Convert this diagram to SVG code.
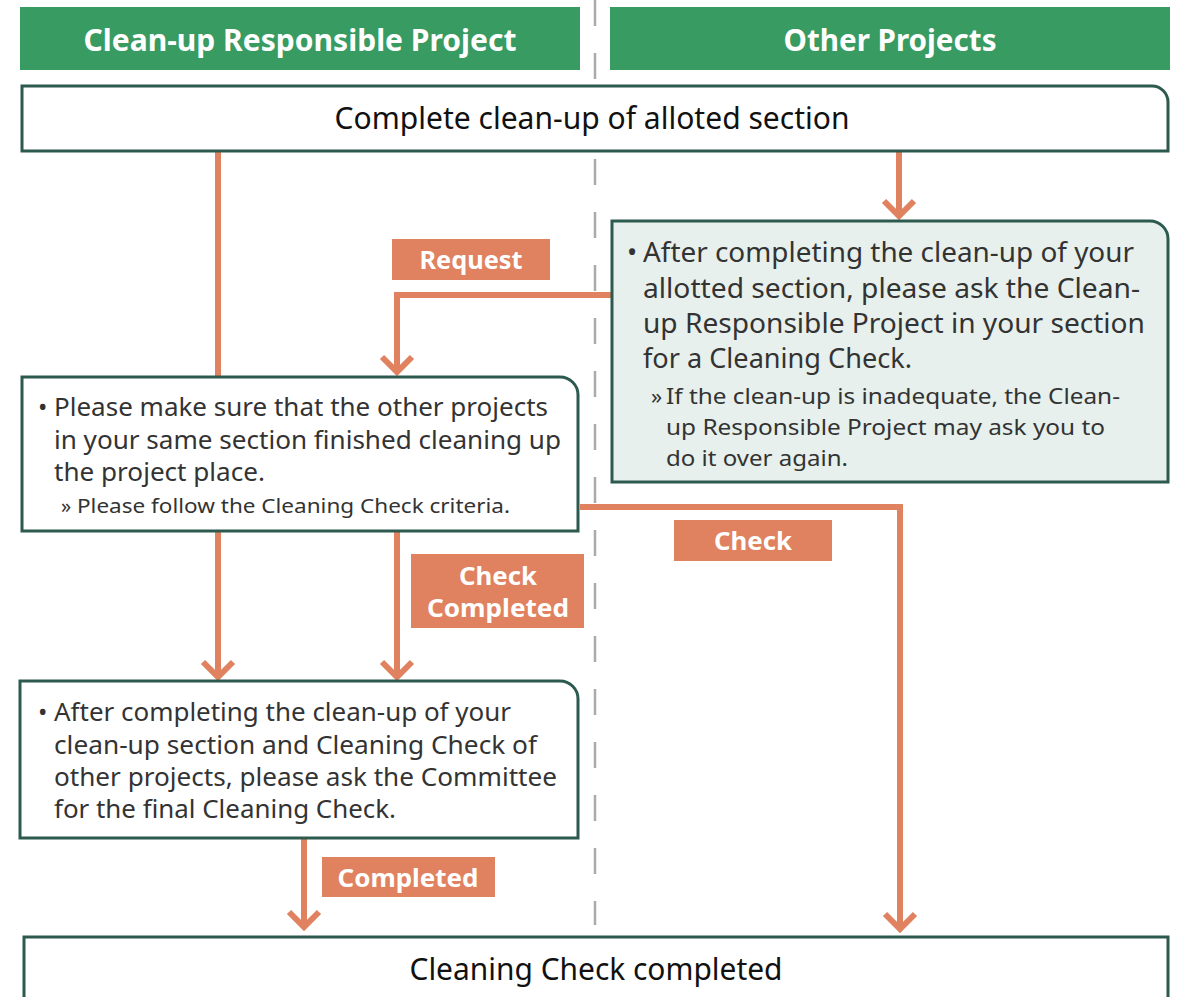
<svg xmlns="http://www.w3.org/2000/svg" width="1181" height="997" viewBox="0 0 1181 997">
  <style>
    .hdr { fill: #389b62; }
    .hdr-t { font-family: "Noto Sans", "Liberation Sans", sans-serif; font-weight: bold; font-size: 30px; fill: #ffffff; text-anchor: middle; }
    .box { fill: #ffffff; stroke: #2d5a4f; stroke-width: 3; }
    .box-g { fill: #e7f0ec; stroke: #2d5a4f; stroke-width: 3; }
    .t { font-family: "Noto Sans", "Liberation Sans", sans-serif; fill: #333333; }
    .big { font-size: 30px; fill: #111111; text-anchor: middle; }
    .body { font-size: 27px; }
    .sub { font-size: 22px; }
    .lbl { fill: #e0825f; }
    .lbl-t { font-family: "Noto Sans", "Liberation Sans", sans-serif; font-weight: bold; font-size: 25px; fill: #ffffff; text-anchor: middle; }
    .conn { fill: none; stroke: #e0825f; stroke-width: 6; }
    .divider { stroke: #aaaaaa; stroke-width: 2.5; stroke-dasharray: 26 27; }
  </style>
  <defs>
    <marker id="chev" markerUnits="userSpaceOnUse" viewBox="-20 -20 24 40" markerWidth="24" markerHeight="40" refX="0" refY="0" orient="auto">
      <path d="M-15,-15 L0,0 L-15,15" fill="none" stroke="#e0825f" stroke-width="6"/>
    </marker>
  </defs>

  <!-- lane divider -->
  <line class="divider" x1="595" y1="0" x2="595" y2="925"/>

  <!-- lane headers -->
  <g id="lane-responsible">
    <rect class="hdr" x="20" y="7" width="560" height="63"/>
    <text class="hdr-t" x="300" y="51" textLength="433" lengthAdjust="spacingAndGlyphs">Clean-up Responsible Project</text>
  </g>
  <g id="lane-other">
    <rect class="hdr" x="610" y="7" width="560" height="63"/>
    <text class="hdr-t" x="890" y="51" textLength="213" lengthAdjust="spacingAndGlyphs">Other Projects</text>
  </g>

  <!-- connectors -->
  <g id="connectors">
    <line class="conn" x1="218" y1="151" x2="218" y2="377"/>
    <line class="conn" x1="899" y1="151" x2="899" y2="216" marker-end="url(#chev)"/>
    <polyline class="conn" points="612,295 397,295 397,372" marker-end="url(#chev)"/>
    <line class="conn" x1="218" y1="531" x2="218" y2="677" marker-end="url(#chev)"/>
    <line class="conn" x1="397" y1="531" x2="397" y2="677" marker-end="url(#chev)"/>
    <polyline class="conn" points="580,507 900,507 900,929" marker-end="url(#chev)"/>
    <line class="conn" x1="304" y1="838" x2="304" y2="927" marker-end="url(#chev)"/>
  </g>

  <!-- start -->
  <g id="start">
    <path class="box" d="M22,86 H1152 A16,16 0 0 1 1168,102 V151 H22 Z"/>
    <text class="t big" x="592" y="129" textLength="515" lengthAdjust="spacingAndGlyphs">Complete clean-up of alloted section</text>
  </g>

  <!-- other projects: request check -->
  <g id="request-check">
    <path class="box-g" d="M612,221 H1150 A18,18 0 0 1 1168,239 V482 H612 Z"/>
    <text class="t body" x="627" y="262">•</text>
    <text class="t body" x="643" y="262" textLength="491" lengthAdjust="spacingAndGlyphs">After completing the clean-up of your</text>
    <text class="t body" x="643" y="298" textLength="497" lengthAdjust="spacingAndGlyphs">allotted section, please ask the Clean-</text>
    <text class="t body" x="643" y="333" textLength="502" lengthAdjust="spacingAndGlyphs">up Responsible Project in your section</text>
    <text class="t body" x="643" y="368" textLength="269" lengthAdjust="spacingAndGlyphs">for a Cleaning Check.</text>
    <text class="t sub" x="651" y="404">»</text>
    <text class="t sub" x="666" y="404" textLength="454" lengthAdjust="spacingAndGlyphs">If the clean-up is inadequate, the Clean-</text>
    <text class="t sub" x="666" y="435" textLength="439" lengthAdjust="spacingAndGlyphs">up Responsible Project may ask you to</text>
    <text class="t sub" x="666" y="466" textLength="182" lengthAdjust="spacingAndGlyphs">do it over again.</text>
  </g>

  <!-- responsible project: check others -->
  <g id="check-others">
    <path class="box" d="M22,377 H560 A18,18 0 0 1 578,395 V531 H22 Z"/>
    <text class="t body" x="38" y="416" style="font-size:25px">•</text>
    <text class="t body" x="54" y="416" style="font-size:25px" textLength="494" lengthAdjust="spacingAndGlyphs">Please make sure that the other projects</text>
    <text class="t body" x="54" y="449" style="font-size:25px" textLength="507" lengthAdjust="spacingAndGlyphs">in your same section finished cleaning up</text>
    <text class="t body" x="54" y="481" style="font-size:25px" textLength="211" lengthAdjust="spacingAndGlyphs">the project place.</text>
    <text class="t sub" x="61" y="513" style="font-size:20px">»</text>
    <text class="t sub" x="77" y="513" style="font-size:20px" textLength="433" lengthAdjust="spacingAndGlyphs">Please follow the Cleaning Check criteria.</text>
  </g>

  <!-- responsible project: ask committee -->
  <g id="ask-committee">
    <path class="box" d="M20,681 H560 A18,18 0 0 1 578,699 V838 H20 Z"/>
    <text class="t body" x="38" y="721" style="font-size:25px">•</text>
    <text class="t body" x="54" y="721" style="font-size:25px" textLength="457" lengthAdjust="spacingAndGlyphs">After completing the clean-up of your</text>
    <text class="t body" x="54" y="754" style="font-size:25px" textLength="483" lengthAdjust="spacingAndGlyphs">clean-up section and Cleaning Check of</text>
    <text class="t body" x="54" y="786" style="font-size:25px" textLength="503" lengthAdjust="spacingAndGlyphs">other projects, please ask the Committee</text>
    <text class="t body" x="54" y="818" style="font-size:25px" textLength="342" lengthAdjust="spacingAndGlyphs">for the final Cleaning Check.</text>
  </g>

  <!-- end -->
  <g id="end">
    <rect class="box" x="24" y="937" width="1144" height="70"/>
    <text class="t big" x="596" y="980" textLength="373" lengthAdjust="spacingAndGlyphs">Cleaning Check completed</text>
  </g>

  <!-- connector labels -->
  <g id="label-request">
    <rect class="lbl" x="392" y="239" width="158" height="41"/>
    <text class="lbl-t" x="471" y="269" textLength="103" lengthAdjust="spacingAndGlyphs">Request</text>
  </g>
  <g id="label-check">
    <rect class="lbl" x="674" y="520" width="158" height="41"/>
    <text class="lbl-t" x="753" y="550" textLength="78" lengthAdjust="spacingAndGlyphs">Check</text>
  </g>
  <g id="label-check-completed">
    <rect class="lbl" x="411" y="554" width="173" height="74"/>
    <text class="lbl-t" x="498" y="585" textLength="78" lengthAdjust="spacingAndGlyphs">Check</text>
    <text class="lbl-t" x="498" y="617" textLength="142" lengthAdjust="spacingAndGlyphs">Completed</text>
  </g>
  <g id="label-completed">
    <rect class="lbl" x="322" y="857" width="173" height="40"/>
    <text class="lbl-t" x="408" y="887" textLength="141" lengthAdjust="spacingAndGlyphs">Completed</text>
  </g>
</svg>
